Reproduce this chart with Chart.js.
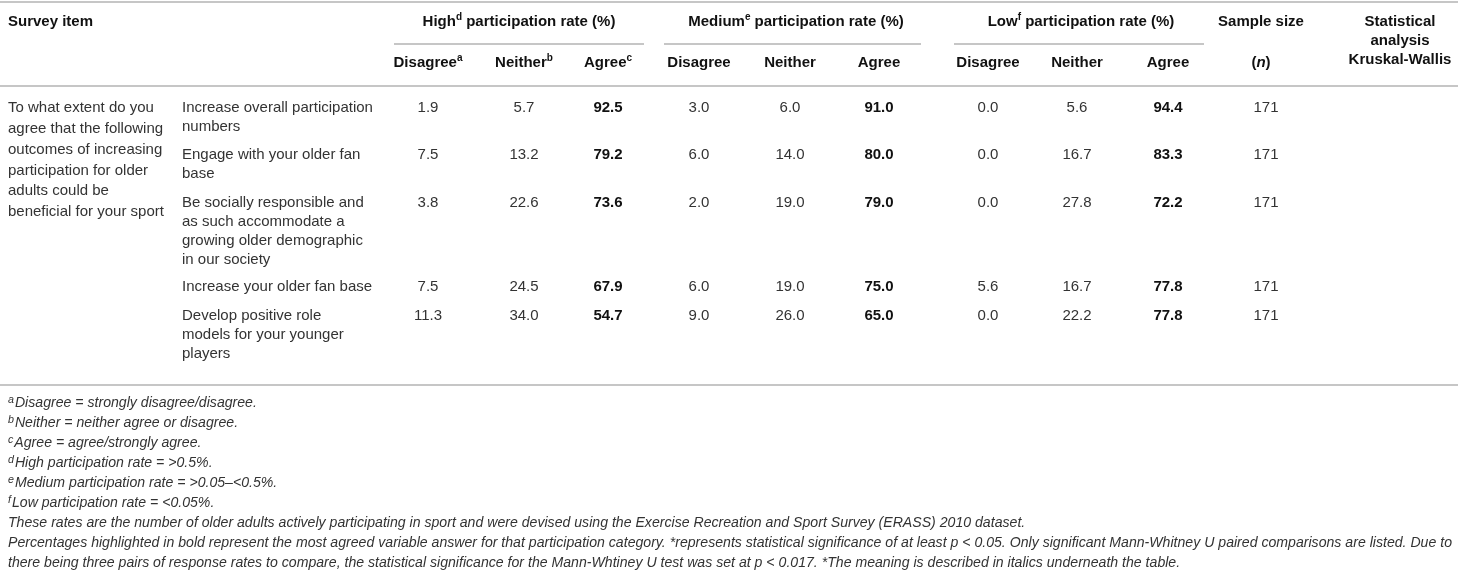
<!DOCTYPE html>
<html><head><meta charset="utf-8">
<script src="https://cdn.jsdelivr.net/npm/chart.js@4.4.1/dist/chart.umd.min.js"></script>
<style>html,body{margin:0;padding:0;background:#fff}#wrap{width:1458px;height:574px;position:relative}</style>
</head><body><div id="wrap"><canvas id="c"></canvas></div>
<script>
// ---------- DATA ----------
const surveyItem = ["To what extent do you","agree that the following","outcomes of increasing","participation for older","adults could be","beneficial for your sport"];
const outcomes = [
  ["Increase overall participation","numbers"],
  ["Engage with your older fan","base"],
  ["Be socially responsible and","as such accommodate a","growing older demographic","in our society"],
  ["Increase your older fan base"],
  ["Develop positive role","models for your younger","players"]
];
const highDisagree = [1.9, 7.5, 3.8, 7.5, 11.3];
const highNeither  = [5.7, 13.2, 22.6, 24.5, 34.0];
const highAgree    = [92.5, 79.2, 73.6, 67.9, 54.7];
const medDisagree  = [3.0, 6.0, 2.0, 6.0, 9.0];
const medNeither   = [6.0, 14.0, 19.0, 19.0, 26.0];
const medAgree     = [91.0, 80.0, 79.0, 75.0, 65.0];
const lowDisagree  = [0.0, 0.0, 0.0, 5.6, 0.0];
const lowNeither   = [5.6, 16.7, 27.8, 16.7, 22.2];
const lowAgree     = [94.4, 83.3, 72.2, 77.8, 77.8];
const sampleSize   = [171, 171, 171, 171, 171];
const groupHeaders = [["High","d"," participation rate (%)"],["Medium","e"," participation rate (%)"],["Low","f"," participation rate (%)"]];
const subHeaders = [["Disagree","a"],["Neither","b"],["Agree","c"],["Disagree",""],["Neither",""],["Agree",""],["Disagree",""],["Neither",""],["Agree",""]];
const footnotes = [
  ["a","Disagree = strongly disagree/disagree."],
  ["b","Neither = neither agree or disagree."],
  ["c","Agree = agree/strongly agree."],
  ["d","High participation rate = >0.5%."],
  ["e","Medium participation rate = >0.05\u2013<0.5%."],
  ["f","Low participation rate = <0.05%."],
  ["","These rates are the number of older adults actively participating in sport and were devised using the Exercise Recreation and Sport Survey (ERASS) 2010 dataset."],
  ["","Percentages highlighted in bold represent the most agreed variable answer for that participation category. *represents statistical significance of at least p < 0.05. Only significant Mann-Whitney U paired comparisons are listed. Due to"],
  ["","there being three pairs of response rates to compare, the statistical significance for the Mann-Whtiney U test was set at p < 0.017. *The meaning is described in italics underneath the table."]
];

// ---------- LAYOUT (positions / styles) ----------
const W = 1458, H = 574;
const colX = [428, 524, 608, 699, 790, 879, 988, 1077, 1168, 1266];
const boldCol = [false,false,true,false,false,true,false,false,true,false];
const rowY = [108, 155, 203, 287, 316];
const lineH = 19;
const leftLineH = 20.8;
const xSurvey = 8, xOutcome = 182;
const groupX = [519, 796, 1081];
const groupRule = [[394,644],[664,921],[954,1204]];
const sampleX = 1261, statX = 1400;
const yHead = 22, yGroupRule = 44, ySub = 63, yTop = 2, yHeadRule = 86, yBottom = 385;
const yFoot0 = 403, footH = 20, footRefLine = 7, footWidthRef = 1444;
const FONT = '"Liberation Sans", Arial, Helvetica, sans-serif';
const TEXT = '#333', BOLD = '#111', RULE = '#b3b3b3';

const cols = [highDisagree, highNeither, highAgree, medDisagree, medNeither, medAgree, lowDisagree, lowNeither, lowAgree, sampleSize];

const datasets = cols.map((arr, c) => ({
  label: 'col' + c,
  data: arr.map((v, r) => ({x: colX[c], y: rowY[r], v})),
  pointRadius: 0, showLine: false
}));

function runsWidth(ctx, runs) {
  let w = 0;
  runs.forEach(r => { ctx.font = r.font; w += ctx.measureText(r.t).width; });
  return w;
}
function drawRuns(ctx, runs, x, y, align) {
  const w = runsWidth(ctx, runs);
  let cx = align === 'center' ? x - w / 2 : (align === 'right' ? x - w : x);
  ctx.textAlign = 'left'; ctx.textBaseline = 'middle';
  runs.forEach(r => {
    ctx.font = r.font; ctx.fillStyle = r.color || TEXT;
    ctx.fillText(r.t, cx, y + (r.dy || 0));
    cx += ctx.measureText(r.t).width + (r.gap || 0);
  });
}

const tablePlugin = {
  id: 'tablePlugin',
  afterDatasetsDraw(chart) {
    const ctx = chart.ctx;
    const xs = chart.scales.x, ys = chart.scales.y;
    const px = v => xs.getPixelForValue(v), py = v => ys.getPixelForValue(v);
    ctx.save();
    // rules
    ctx.strokeStyle = RULE; ctx.lineWidth = 1.6;
    const hline = (x1, x2, y) => { ctx.beginPath(); ctx.moveTo(px(x1), py(y)); ctx.lineTo(px(x2), py(y)); ctx.stroke(); };
    hline(0, W, yTop); hline(0, W, yHeadRule); hline(0, W, yBottom);
    groupRule.forEach(g => hline(g[0], g[1], yGroupRule));

    const B = 'bold 15px ' + FONT, N = '15px ' + FONT, SUPB = 'bold 10px ' + FONT;
    // header
    drawRuns(ctx, [{t:'Survey item', font:B, color:BOLD}], px(xSurvey), py(yHead), 'left');
    groupHeaders.forEach((g, i) => drawRuns(ctx, [
      {t:g[0], font:B, color:BOLD}, {t:g[1], font:SUPB, color:BOLD, dy:-5}, {t:g[2], font:B, color:BOLD}
    ], px(groupX[i]), py(yHead), 'center'));
    drawRuns(ctx, [{t:'Sample size', font:B, color:BOLD}], px(sampleX), py(yHead), 'center');
    ['Statistical','analysis','Kruskal-Wallis'].forEach((t, i) =>
      drawRuns(ctx, [{t, font:B, color:BOLD}], px(statX), py(yHead + i * 19), 'center'));
    subHeaders.forEach((s, i) => drawRuns(ctx, [
      {t:s[0], font:B, color:BOLD}, {t:s[1], font:SUPB, color:BOLD, dy:-5}
    ], px(colX[i]), py(ySub), 'center'));
    drawRuns(ctx, [{t:'(', font:B, color:BOLD}, {t:'n', font:'italic bold 15px ' + FONT, color:BOLD}, {t:')', font:B, color:BOLD}], px(sampleX), py(ySub), 'center');

    // body text
    surveyItem.forEach((t, i) => drawRuns(ctx, [{t, font:N}], px(xSurvey), py(rowY[0] + i * leftLineH), 'left'));
    outcomes.forEach((lines, r) => lines.forEach((t, k) =>
      drawRuns(ctx, [{t, font:N}], px(xOutcome), py(rowY[r] + k * lineH), 'left')));

    // values via dataset elements
    chart.data.datasets.forEach((ds, c) => {
      const meta = chart.getDatasetMeta(c);
      meta.data.forEach((el, r) => {
        const v = ds.data[r].v;
        const txt = c === cols.length - 1 ? String(v) : v.toFixed(1);
        drawRuns(ctx, [{t:txt, font: boldCol[c] ? B : N, color: boldCol[c] ? BOLD : TEXT}], el.x, el.y, 'center');
      });
    });

    // footnotes
    const FI = 'italic 14.5px ' + FONT, FS = 'italic 11px ' + FONT;
    const refW = runsWidth(ctx, [{t:footnotes[footRefLine][1], font:FI}]);
    const sx = footWidthRef / refW;
    footnotes.forEach((f, i) => {
      ctx.save();
      ctx.translate(px(xSurvey), py(yFoot0 + i * footH));
      ctx.scale(sx, 1);
      const runs = [];
      if (f[0]) runs.push({t:f[0], font:FS, dy:-3, gap:1});
      runs.push({t:f[1], font:FI});
      drawRuns(ctx, runs, 0, 0, 'left');
      ctx.restore();
    });
    ctx.restore();
  }
};

new Chart(document.getElementById('c'), {
  type: 'scatter',
  data: { datasets },
  options: {
    responsive: true, maintainAspectRatio: false, animation: false, events: [],
    layout: { padding: 0 },
    plugins: { legend: {display:false}, tooltip: {enabled:false} },
    scales: {
      x: { type:'linear', min:0, max:W, display:false },
      y: { type:'linear', min:0, max:H, reverse:true, display:false }
    }
  },
  plugins: [tablePlugin]
});
</script></body></html>
